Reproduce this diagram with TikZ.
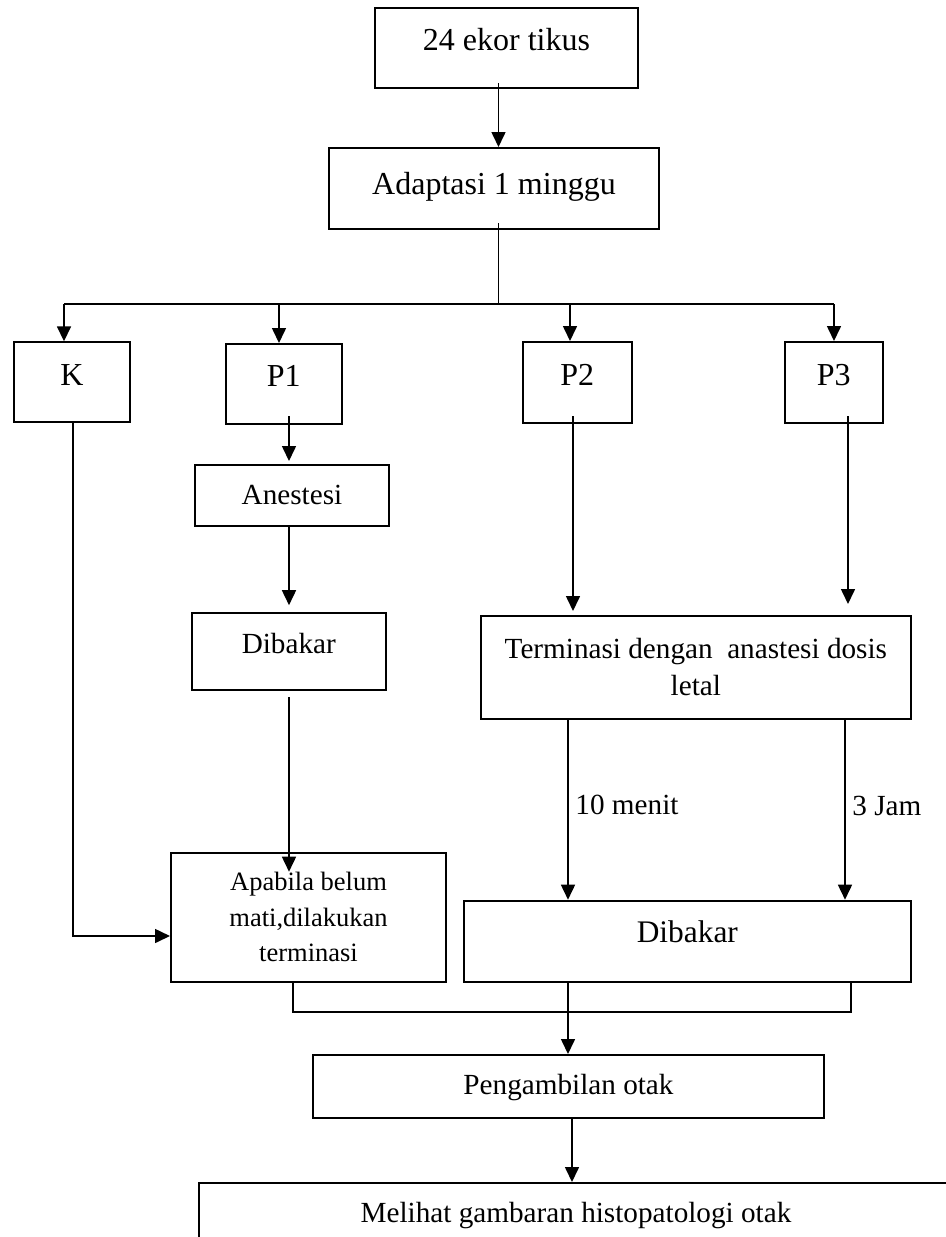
\documentclass[tikz,border=0pt]{standalone}
\usepackage{fontspec}
\setmainfont{Liberation Serif}
\usetikzlibrary{arrows.meta}
\newcommand{\FBig}{\fontsize{16}{19}\selectfont}
\newcommand{\FMid}{\fontsize{14.6}{18.5}\selectfont}
\newcommand{\FSmall}{\fontsize{13.25}{17.75}\selectfont}

\begin{document}
\begin{tikzpicture}[x=0.5pt,y=-0.5pt,
		box/.style={draw,line width=1pt,inner sep=0pt},
		tbox/.style={box,text depth=#1},
		big/.style={font=\FBig,text height=10.5pt},
		mid/.style={font=\FMid,text height=9.6pt},
		line/.style={line width=0.8pt},
		arr/.style={line,-{Triangle[length=7.5pt,width=7pt]}}]
	\useasboundingbox (0,0) rectangle (946,1237);
	\clip (0,0) rectangle (946,1237);
	% boxes
	\node [tbox=8.3pt,big,minimum width=131.5pt,minimum height=40pt] (tikus) at (506.5,48) {24 ekor tikus};
	\node [tbox=4.5pt,big,minimum width=165pt,minimum height=40.5pt] (adapt) at (494,188.5) {Adaptasi 1 minggu};
	\node [tbox=7.6pt,big,minimum width=57.75pt,minimum height=40pt] (K) at (72,382.3) {K};
	\node [tbox=8pt,big,minimum width=57.75pt,minimum height=40pt] (P1) at (283.75,384) {P1};
	\node [tbox=7.6pt,big,minimum width=54.7pt,minimum height=40.5pt] (P2) at (577.3,382.5) {P2};
	\node [tbox=7.6pt,big,minimum width=49.25pt,minimum height=40.5pt] (P3) at (833.75,382.5) {P3};
	\node [tbox=0.5pt,mid,minimum width=97pt,minimum height=30.5pt] (anes) at (292,495.5) {Anestesi};
	\node [tbox=7.9pt,mid,minimum width=96.8pt,minimum height=38.5pt] (bakar1) at (288.8,651.7) {Dibakar};
	\node [box,align=center,minimum width=214.85pt,minimum height=51.5pt,font=\FMid] (term) at (695.85,667.5) {Terminasi dengan~ anastesi dosis\\letal};
	\node [box,align=center,minimum width=137.5pt,minimum height=64.5pt,font=\FSmall] (apabila) at (308.5,917.2) {Apabila belum\\mati,dilakukan\\terminasi};
	\node [tbox=9.5pt,big,minimum width=223.35pt,minimum height=40.5pt,font=\fontsize{15.7}{19}\selectfont] (bakar2) at (687.35,941.2) {Dibakar};
	\node [tbox=1.7pt,mid,minimum width=255.5pt,minimum height=31.7pt] (ambil) at (568.5,1086.7) {Pengambilan otak};
	\node [tbox=0pt,mid,minimum width=377pt,minimum height=30pt] (lihat) at (576,1213) {Melihat gambaran histopatologi otak};
	% branching
	\coordinate (bus) at (498.5,304);
	\draw [arr,shorten <=-3pt] (tikus.south -| bus) -- (adapt.north -| bus);
	\draw [line,shorten <=-3.5pt] (adapt.south -| bus) -- (bus);
	\coordinate (kin) at (64,304);
	\coordinate (p1in) at (279,304);
	\coordinate (p2in) at (570,304);
	\coordinate (p3in) at (834,304);
	\draw [line] (kin) -- (p3in);
	\foreach \t/\b in {kin/K,p1in/P1,p2in/P2,p3in/P3}
		\draw [arr] (\t) -- (\t |- \b.north);
	% columns
	\coordinate (c1) at (289,0);
	\coordinate (c2) at (573,0);
	\coordinate (c3) at (848,0);
	\coordinate (c4) at (568,0);
	\coordinate (c5) at (845,0);
	\coordinate (c6) at (572,0);
	\draw [arr,shorten <=-4.5pt,shorten >=1.5pt] (P1.south -| c1) -- (anes.north -| c1);
	\draw [arr,shorten >=3.5pt] (anes.south -| c1) -- (bakar1.north -| c1);
	\draw [arr,shorten <=3pt,shorten >=-10pt] (bakar1.south -| c1) -- (apabila.north -| c1);
	\draw [arr,shorten <=-4pt,shorten >=2pt] (P2.south -| c2) -- (term.north -| c2);
	\draw [arr,shorten <=-4pt,shorten >=5.5pt] (P3.south -| c3) -- (term.north -| c3);
	\draw [arr] (term.south -| c4) -- node [right,pos=0.47,font=\FMid] (menit) {10 menit} (bakar2.north -| c4);
	\draw [arr] (term.south -| c5) -- node [right,pos=0.48,font=\FMid] (jam) {3 Jam} (bakar2.north -| c5);
	% K to the terminasi box
	\coordinate (kturn) at (73,936);
	\draw [arr] (K.south -| kturn) -- (kturn) -- (kturn -| apabila.west);
	% joining
	\coordinate (brk) at (568,1012);
	\coordinate (b1) at (292.7,0);
	\coordinate (b2) at (851,0);
	\draw [line] (apabila.south -| b1) |- (brk) -| (bakar2.south -| b2);
	\draw [arr] (bakar2.south -| c4) -- (ambil.north -| c4);
	\draw [arr,shorten <=-1pt] (ambil.south -| c6) -- (lihat.north -| c6);
\end{tikzpicture}
\end{document}
